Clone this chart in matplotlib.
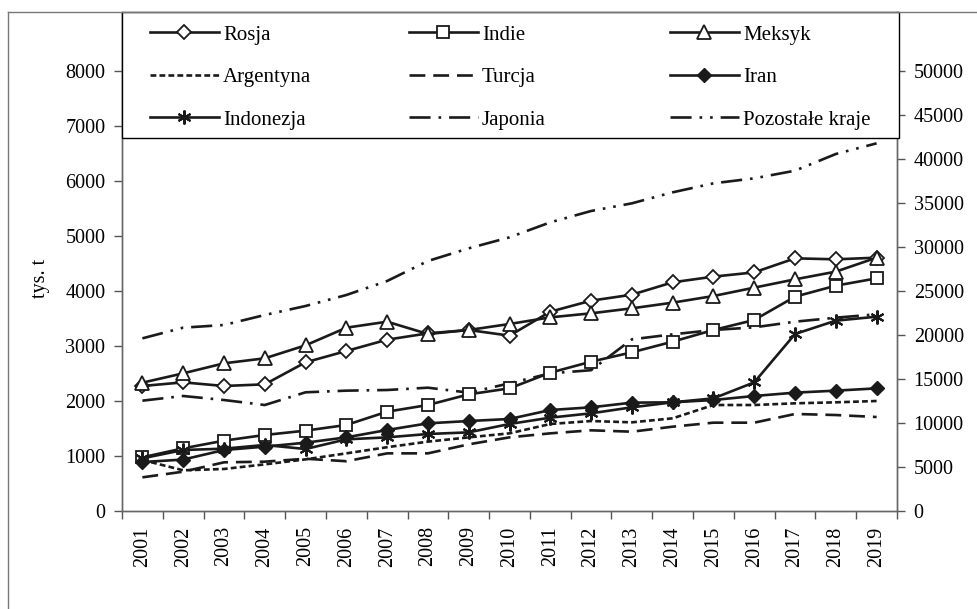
import matplotlib
matplotlib.use("Agg")
import matplotlib.pyplot as plt
from matplotlib.lines import Line2D
from matplotlib.patches import Rectangle
import numpy as np

plt.rcParams['font.family'] = ['Liberation Serif', 'DejaVu Serif']

years = [str(y) for y in range(2001, 2020)]

rosja = [2273, 2339, 2273, 2303, 2703, 2909, 3115, 3230, 3291, 3188,
         3624, 3824, 3933, 4158, 4261, 4339, 4594, 4576, 4606]
indie = [976, 1139, 1279, 1382, 1461, 1564, 1806, 1927, 2121, 2230,
         2515, 2715, 2885, 3079, 3291, 3473, 3897, 4097, 4230]
meksyk = [2333, 2503, 2685, 2776, 3012, 3333, 3442, 3218, 3291, 3400,
          3521, 3594, 3685, 3788, 3909, 4061, 4212, 4352, 4606]
argentyna = [927, 740, 764, 848, 939, 1048, 1160, 1261, 1339, 1412,
             1582, 1636, 1612, 1685, 1927, 1927, 1958, 1976, 2000]
turcja = [612, 715, 885, 897, 950, 905, 1048, 1048, 1212, 1339,
          1412, 1467, 1442, 1533, 1606, 1606, 1764, 1745, 1709]
iran = [890, 935, 1109, 1170, 1242, 1339, 1473, 1594, 1636, 1673,
        1836, 1885, 1970, 1976, 2018, 2091, 2152, 2188, 2230]
indonezja = [958, 1109, 1133, 1200, 1127, 1303, 1339, 1400, 1430, 1582,
             1697, 1776, 1885, 1976, 2048, 2339, 3218, 3461, 3533]
japonia = [2006, 2091, 2018, 1927, 2158, 2188, 2200, 2242, 2152, 2321,
           2503, 2560, 3121, 3212, 3291, 3339, 3442, 3515, 3576]
pozostale = [19621, 20833, 21136, 22273, 23295, 24545, 26136, 28409, 29848, 31098,
             32803, 34091, 34962, 36212, 37235, 37803, 38674, 40568, 41780]

left_ticks = list(range(0, 8001, 1000))
right_ticks = list(range(0, 50001, 5000))

W, H = 977, 609
fig = plt.figure(figsize=(W / 100, H / 100), dpi=100)

ax_l, ax_r, ax_b, ax_t = 122, 897, 511, 12
ax = fig.add_axes([ax_l / W, 1 - ax_b / H, (ax_r - ax_l) / W, (ax_b - ax_t) / H])
ax2 = ax.twinx()

col = '#1a1a1a'
lw = 1.9
x = np.arange(len(years))

ax.plot(x, rosja, color=col, lw=lw, marker='D', ms=6.8, mfc='white', mec=col, mew=1.3, label='Rosja', zorder=5)
ax.plot(x, indie, color=col, lw=lw, marker='s', ms=8, mfc='white', mec=col, mew=1.3, label='Indie', zorder=5)
ax.plot(x, meksyk, color=col, lw=lw, marker='^', ms=9.5, mfc='white', mec=col, mew=1.3, label='Meksyk', zorder=5)
ax.plot(x, argentyna, color=col, lw=lw, ls=(0, (2.2, 1.2)), label='Argentyna', zorder=4)
ax.plot(x, turcja, color=col, lw=lw, ls=(0, (6, 3)), label='Turcja', zorder=4)
ax.plot(x, iran, color=col, lw=lw, marker='D', ms=6.8, mfc=col, mec=col, label='Iran', zorder=5)
ax.plot(x, indonezja, color=col, lw=lw, marker=(6, 2, 0), ms=10, mec=col, mew=1.5, label='Indonezja', zorder=5)
ax.plot(x, japonia, color=col, lw=lw, ls=(0, (8, 3, 1, 3)), label='Japonia', zorder=4)
ax2.plot(x, pozostale, color=col, lw=lw, ls=(0, (8, 3, 1, 3, 1, 3)), label='Pozostałe kraje', zorder=4)

px_per_unit = (ax_b - 71) / 8000.0
top_left = (ax_b - ax_t) / px_per_unit
ax.set_ylim(0, top_left)
ax2.set_ylim(0, top_left * 6.25)
ax.set_xlim(-0.5, len(years) - 0.5)

ax.set_yticks(left_ticks)
ax.set_yticklabels([str(v) for v in left_ticks])
ax2.set_yticks(right_ticks)
ax2.set_yticklabels([str(v) for v in right_ticks])

ax.set_xticks(x)
ax.set_xticklabels(years, rotation=90)
ax.set_xticks(np.arange(len(years) + 1) - 0.5, minor=True)
ax.tick_params(axis='x', which='major', length=0, pad=11, labelsize=14.5)
ax.tick_params(axis='x', which='minor', length=6, width=1, color='#555555', direction='out')
ax.tick_params(axis='y', length=6, width=1, color='#555555', labelsize=14.5, pad=6)
ax2.tick_params(axis='y', length=6, width=1, color='#555555', labelsize=14.5, pad=6)

for a in (ax, ax2):
    a.spines['top'].set_visible(False)
    for s in ('left', 'right', 'bottom'):
        a.spines[s].set_color('#666666')
        a.spines[s].set_linewidth(1.0)

# legend box
box = Rectangle((0, (ax_b - 138) / (ax_b - ax_t)), 1.003, 1 - (ax_b - 138) / (ax_b - ax_t),
                transform=ax.transAxes, facecolor='white', edgecolor='black', lw=1.0,
                zorder=10, clip_on=False)
ax2.add_patch(box)

h1, l1 = ax.get_legend_handles_labels()
h2, l2 = ax2.get_legend_handles_labels()
hmap = dict(zip(l1 + l2, h1 + h2))
columns = [['Rosja', 'Argentyna', 'Indonezja'],
           ['Indie', 'Turcja', 'Japonia'],
           ['Meksyk', 'Iran', 'Pozostałe kraje']]
col_x = [150, 409, 670]
for cx, names in zip(col_x, columns):
    leg = fig.legend([hmap[n] for n in names], names, loc='upper left',
                     bbox_to_anchor=(cx / W, 1 - 25 / H), frameon=False,
                     fontsize=15, handlelength=3.3, handletextpad=0.2,
                     labelspacing=1.1, borderpad=0, borderaxespad=0, numpoints=1)
    leg.set_zorder(20)

# outer frame
fig.add_artist(Line2D([8 / W, 8 / W], [0, 1 - 12 / H], color='#777777', lw=1.0))
fig.add_artist(Line2D([8 / W, 1], [1 - 12 / H, 1 - 12 / H], color='#777777', lw=1.0))

fig.text(40 / W, 1 - 278 / H, 'tys. t', rotation=90, ha='center', va='center', fontsize=14.5)

fig.savefig('out.png', dpi=100)
